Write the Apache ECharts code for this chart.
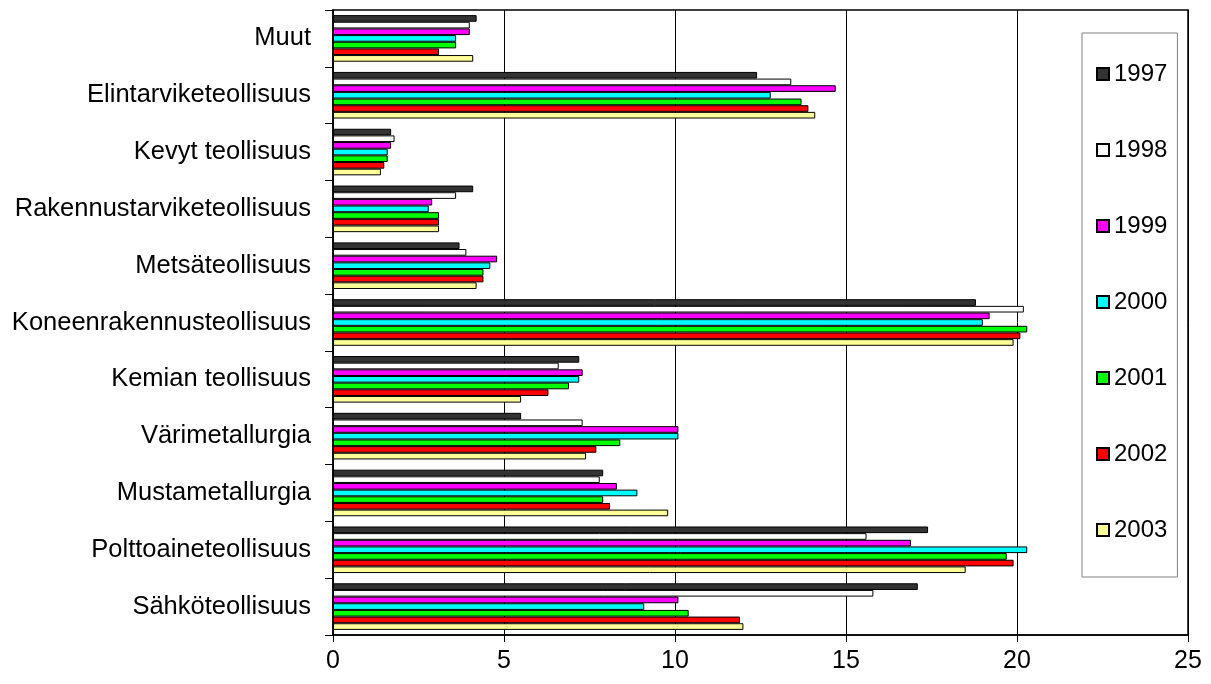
<!DOCTYPE html>
<html>
<head>
<meta charset="utf-8">
<script src="https://cdn.jsdelivr.net/npm/echarts@6/dist/echarts.min.js"></script>
<style>
html,body{margin:0;padding:0;background:#fff;}
#c{width:1211px;height:684px;}
</style>
</head>
<body>
<div id="c"></div>
<script>
const categories = ['Sähköteollisuus','Polttoaineteollisuus','Mustametallurgia','Värimetallurgia','Kemian teollisuus','Koneenrakennusteollisuus','Metsäteollisuus','Rakennustarviketeollisuus','Kevyt teollisuus','Elintarviketeollisuus','Muut'];
const years = ['1997','1998','1999','2000','2001','2002','2003'];
const y1997 = [17.1, 17.4, 7.9, 5.5, 7.2, 18.8, 3.7, 4.1, 1.7, 12.4, 4.2];
const y1998 = [15.8, 15.6, 7.8, 7.3, 6.6, 20.2, 3.9, 3.6, 1.8, 13.4, 4.0];
const y1999 = [10.1, 16.9, 8.3, 10.1, 7.3, 19.2, 4.8, 2.9, 1.7, 14.7, 4.0];
const y2000 = [9.1, 20.3, 8.9, 10.1, 7.2, 19.0, 4.6, 2.8, 1.6, 12.8, 3.6];
const y2001 = [10.4, 19.7, 7.9, 8.4, 6.9, 20.3, 4.4, 3.1, 1.6, 13.7, 3.6];
const y2002 = [11.9, 19.9, 8.1, 7.7, 6.3, 20.1, 4.4, 3.1, 1.5, 13.9, 3.1];
const y2003 = [12.0, 18.5, 9.8, 7.4, 5.5, 19.9, 4.2, 3.1, 1.4, 14.1, 4.1];
const xTicks = [0, 5, 10, 15, 20, 25];

const values = [y1997, y1998, y1999, y2000, y2001, y2002, y2003];
const colors = ['#333333', '#ffffff', '#ff00ff', '#00ffff', '#00ff00', '#ff0000', '#ffff99'];
const font = "'Liberation Sans', Arial, sans-serif";

const chart = echarts.init(document.getElementById('c'), null, {renderer: 'canvas'});
chart.setOption({
  animation: false,
  backgroundColor: '#ffffff',
  grid: {left: 333, right: 23, top: 10, bottom: 49, show: true, borderColor: '#000', borderWidth: 1.5, backgroundColor: 'transparent'},
  legend: {
    orient: 'vertical',
    left: 1082, top: 33,
    itemWidth: 12, itemHeight: 12, itemGap: 52,
    padding: [29, 10, 35, 14],
    borderColor: '#808080', borderWidth: 1,
    backgroundColor: '#fff',
    selectedMode: false,
    icon: 'rect',
    textStyle: {fontFamily: font, fontSize: 24, lineHeight: 24, color: '#000'},
    data: years
  },
  xAxis: {
    type: 'value', min: xTicks[0], max: xTicks[xTicks.length - 1], interval: 5,
    axisLine: {show: true, lineStyle: {color: '#000', width: 1.5}},
    axisTick: {show: true, length: 7, lineStyle: {color: '#000'}},
    axisLabel: {fontFamily: font, fontSize: 25, color: '#000', margin: 14},
    splitLine: {show: true, lineStyle: {color: '#000', width: 1}}
  },
  yAxis: {
    type: 'category', data: categories,
    axisLine: {show: true, lineStyle: {color: '#000', width: 1.5}},
    axisTick: {show: true, length: 8, lineStyle: {color: '#000'}},
    axisLabel: {fontFamily: font, fontSize: 25.5, color: '#000', margin: 22}
  },
  series: years.map((y, i) => ({
    name: y, type: 'bar', data: values[i],
    barGap: '0%', barCategoryGap: '18%',
    itemStyle: {color: colors[i], borderColor: '#000', borderWidth: 1}
  }))
});
</script>
</body>
</html>
